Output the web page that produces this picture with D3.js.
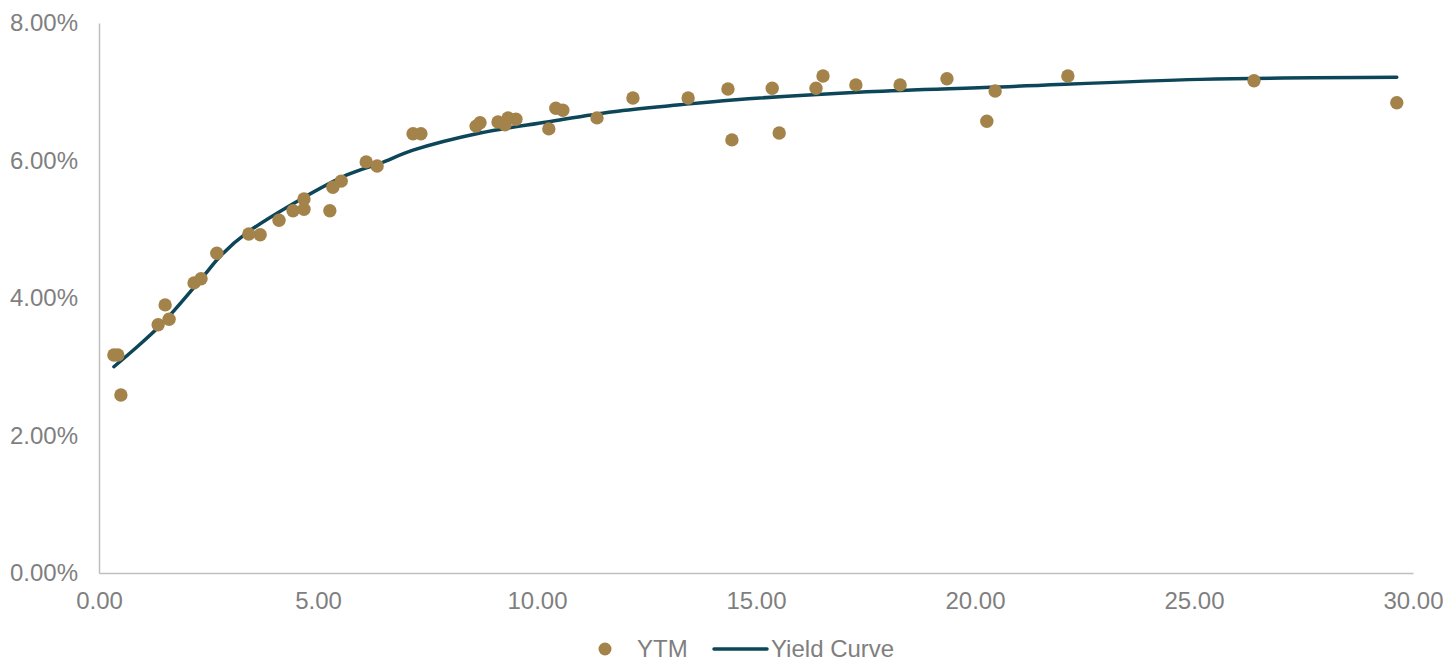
<!DOCTYPE html>
<html>
<head>
  <meta charset="UTF-8">
  <title>Yield Curve</title>
  <style>
    body { margin: 0; background: #fff; }
    text { font-family: "Liberation Sans", Arial, sans-serif; }
  </style>
</head>
<body>
  <script src="https://cdn.jsdelivr.net/npm/d3@7"></script>
  <script>
    const width = 1447,
      height = 662

    // YTM points: maturity (years), yield (%)
    const ytmX = [0.34, 0.43, 0.50, 1.35, 1.51, 1.60, 2.17, 2.33, 2.69, 3.42,
      3.68, 4.11, 4.43, 4.68, 4.68, 5.27, 5.34, 5.53, 6.10, 6.35,
      7.17, 7.35, 8.61, 8.70, 9.11, 9.27, 9.34, 9.52, 10.27, 10.43,
      10.59, 11.37, 12.19, 13.45, 14.36, 14.45, 15.37, 15.53, 16.37, 16.53,
      17.28, 18.29, 19.36, 20.27, 20.46, 22.12, 26.37, 29.63]
    const ytmY = [3.17, 3.17, 2.59, 3.61, 3.90, 3.69, 4.22, 4.28, 4.65, 4.93,
      4.92, 5.13, 5.27, 5.44, 5.29, 5.27, 5.61, 5.70, 5.98, 5.92,
      6.39, 6.39, 6.50, 6.55, 6.56, 6.52, 6.62, 6.60, 6.46, 6.76,
      6.73, 6.62, 6.91, 6.91, 7.04, 6.30, 7.05, 6.40, 7.05, 7.23,
      7.10, 7.10, 7.19, 6.57, 7.01, 7.23, 7.16, 6.84]

    // fitted curve
    const curveX = [0.34, 0.8, 1.46, 2.31, 2.8, 3.38, 4.59, 5.66, 6.42, 7.17,
      8.70, 10.23, 11.74, 13.26, 14.47, 17.53, 20.57, 25.14, 29.63]
    const curveY = [3.00, 3.25, 3.64, 4.26, 4.63, 4.95, 5.43, 5.79, 5.96, 6.15,
      6.40, 6.56, 6.71, 6.81, 6.88, 7.00, 7.07, 7.18, 7.21]

    const xTicks = [0, 5, 10, 15, 20, 25, 30]
    const yTicks = [0, 2, 4, 6, 8]

    const ytm = ytmX.map((x, i) => ({ x: x, y: ytmY[i] }))
    const curve = curveX.map((x, i) => ({ x: x, y: curveY[i] }))

    const plotLeft = 99, plotRight = 1413, plotTop = 23, plotBottom = 573
    const gray = '#7f7f7f'
    const fontSize = '24px'

    const svg = d3.select('body')
      .append('svg')
      .attr('width', width)
      .attr('height', height)

    const xScale = d3.scaleLinear().domain([0, 30]).range([plotLeft, plotRight])
    const yScale = d3.scaleLinear().domain([0, 8]).range([plotBottom, plotTop])

    svg.append('g')
      .attr('transform', `translate(0, ${plotBottom})`)
      .call(d3.axisBottom(xScale).tickValues(xTicks)
        .tickFormat(d => d.toFixed(2)).tickSize(0).tickPadding(19))
    svg.append('g')
      .attr('transform', `translate(${plotLeft}, 0)`)
      .call(d3.axisLeft(yScale).tickValues(yTicks)
        .tickFormat(d => d.toFixed(2) + '%').tickSize(0).tickPadding(21))

    svg.selectAll('.domain').attr('stroke', '#bfbfbf').attr('stroke-width', 1.5)
    svg.selectAll('.tick text')
      .attr('fill', gray)
      .style('font-size', fontSize)
      .style('font-family', '"Liberation Sans", Arial, sans-serif')

    const line = d3.line()
      .x(d => xScale(d.x))
      .y(d => yScale(d.y))
      .curve(d3.curveCatmullRom.alpha(0.5))

    svg.append('path')
      .datum(curve)
      .attr('d', line)
      .attr('fill', 'none')
      .attr('stroke', '#0c4658')
      .attr('stroke-width', 3.5)
      .attr('stroke-linecap', 'round')

    svg.selectAll('circle.ytm')
      .data(ytm).enter()
      .append('circle')
      .classed('ytm', true)
      .attr('cx', d => xScale(d.x))
      .attr('cy', d => yScale(d.y))
      .attr('r', 6.7)
      .attr('fill', '#a4834b')

    // legend
    const lg = svg.append('g').attr('transform', 'translate(0, 649)')
    lg.append('circle').attr('cx', 605).attr('cy', 0).attr('r', 6.5).attr('fill', '#a4834b')
    lg.append('text').attr('x', 637).attr('y', 8).attr('fill', gray)
      .style('font-size', fontSize).text('YTM')
    lg.append('line').attr('x1', 714).attr('x2', 767).attr('y1', 0).attr('y2', 0)
      .attr('stroke', '#0c4658').attr('stroke-width', 3.5).attr('stroke-linecap', 'round')
    lg.append('text').attr('x', 771).attr('y', 8).attr('fill', gray)
      .style('font-size', fontSize).text('Yield Curve')
  </script>
</body>
</html>
